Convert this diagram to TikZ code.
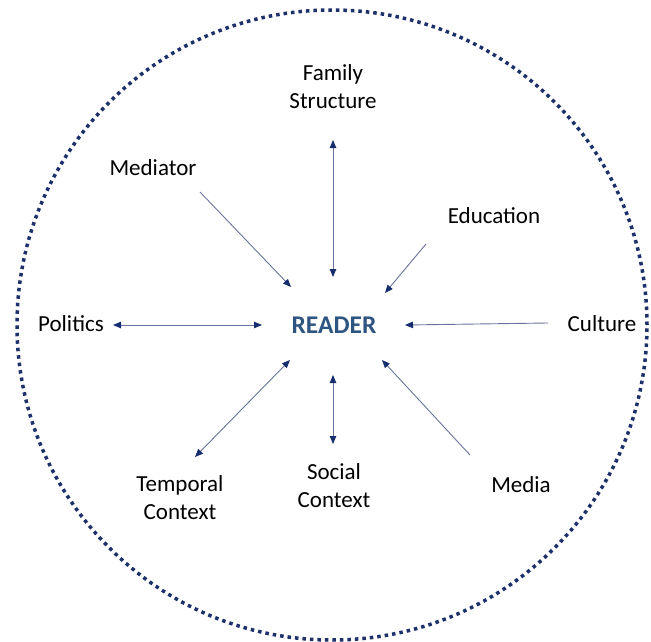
\documentclass[tikz,border=0pt]{standalone}
\usepackage{fontspec}
\setmainfont{Carlito}
\usetikzlibrary{arrows.meta}
\definecolor{ring}{RGB}{28,48,105}
\definecolor{tip}{RGB}{22,45,110}
\definecolor{wire}{RGB}{105,115,155}
\definecolor{readerblue}{RGB}{46,84,130}

\begin{document}
\begin{tikzpicture}[x=1pt,y=-1pt,
  lbl/.style={font=\fontsize{23}{28}\selectfont,align=center,inner sep=0pt},
  one/.style={draw=wire,line width=0.9pt,-{Triangle[length=8pt,width=6.5pt,color=tip]}},
  two/.style={draw=wire,line width=0.9pt,{Triangle[length=8pt,width=6.5pt,color=tip]}-{Triangle[length=8pt,width=6.5pt,color=tip]}}]
\useasboundingbox (0,0) rectangle (651,642);
\draw[ring,line width=3.5pt,dash pattern=on 3.5pt off 4pt] (332,325) circle (315pt);
\node[font=\fontsize{25.5}{30}\selectfont\bfseries,text=readerblue] (rdr) at (334,325) {READER};
\node[lbl] (fam) at (333,87) {Family\\Structure};
\node[lbl] (med) at (153,168) {Mediator};
\node[lbl] (edu) at (494,216) {Education};
\node[lbl] (pol) at (71,324) {Politics};
\node[lbl] (cul) at (602,324) {Culture};
\node[lbl] (tem) at (180,498) {Temporal\\Context};
\node[lbl] (soc) at (334,486) {Social\\Context};
\node[lbl] (mda) at (521,485) {Media};
\coordinate (f1) at (333,140);
\coordinate (f2) at (333,277);
\coordinate (m1) at (200,192);
\coordinate (m2) at (291,287);
\coordinate (e1) at (426,244);
\coordinate (e2) at (385,293);
\coordinate (p1) at (113,325);
\coordinate (p2) at (262,325);
\coordinate (c1) at (548,323);
\coordinate (c2) at (405,325);
\coordinate (t1) at (195,457);
\coordinate (t2) at (290,360);
\coordinate (s1) at (333,375);
\coordinate (s2) at (333,444);
\coordinate (d1) at (470,455);
\coordinate (d2) at (382,360);
\draw[two] (f1) -- (f2);
\draw[one] (m1) -- (m2);
\draw[one] (e1) -- (e2);
\draw[two] (p1) -- (p2);
\draw[one] (c1) -- (c2);
\draw[two] (t1) -- (t2);
\draw[two] (s1) -- (s2);
\draw[one] (d1) -- (d2);
\end{tikzpicture}
\end{document}
